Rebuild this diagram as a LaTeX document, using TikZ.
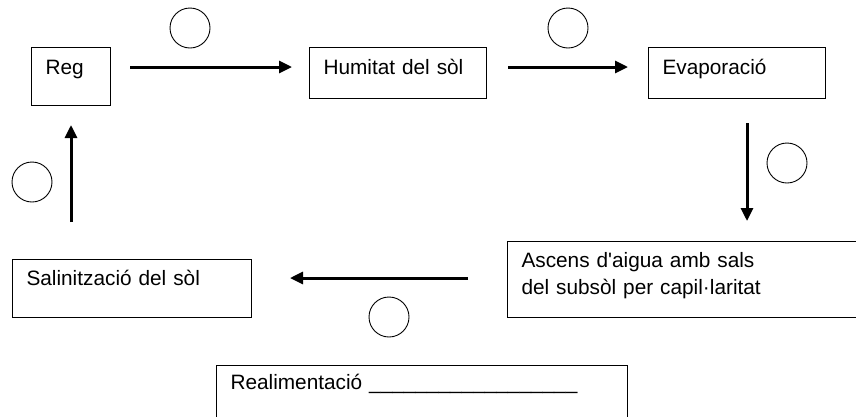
\documentclass[tikz,border=0pt]{standalone}
\usepackage{fontspec}
\setmainfont{Liberation Sans}
\usetikzlibrary{arrows.meta}

\begin{document}
\begin{tikzpicture}[x=1pt, y=-1pt,
  caixa/.style={draw, line width=1pt, anchor=north west, align=left,
    inner xsep=14pt, inner ysep=0pt, font=\fontsize{20.8}{27}\selectfont},
  fletxa/.style={line width=3pt, -{Triangle[length=13pt,width=12pt]}},
  rodona/.style={draw, circle, line width=0.9pt, minimum size=40pt, inner sep=0pt}]
\useasboundingbox (0,0) rectangle (856,416);

% caixes
\draw (31,47) node[caixa, text width=51pt, text height=27pt, text depth=31pt] (reg) {Reg};
\draw (309,47) node[caixa, text width=149pt, text height=27pt, text depth=24pt] (humitat) {Humitat del sòl};
\draw (648,47) node[caixa, text width=149pt, text height=27pt, text depth=24pt] (evap) {Evaporació};
\draw (507,241) node[caixa, text width=324pt, text height=26pt, text depth=50pt] (ascens) {Ascens d\textquotesingle aigua amb sals\\del subsòl per capil·laritat};
\draw (12,259) node[caixa, text width=211pt, text height=26pt, text depth=32pt] (salin) {Salinització del sòl};
\draw (216,365) node[caixa, text width=383pt, text height=24pt, text depth=31pt] (realim) {Realimentació \_\_\_\_\_\_\_\_\_\_\_\_\_\_\_\_\_\_};

% cercles
\draw (190,28) node[rodona] (c1) {};
\draw (568,28) node[rodona] (c2) {};
\draw (787,163) node[rodona] (c3) {};
\draw (389,317) node[rodona] (c4) {};
\draw (32,182) node[rodona] (c5) {};

% fletxes
\coordinate (a1) at (130,67);
\coordinate (b1) at (292,67);
\coordinate (a2) at (508,67);
\coordinate (b2) at (628,67);
\coordinate (a3) at (747,123);
\coordinate (b3) at (747,221);
\coordinate (a4) at (468,278);
\coordinate (b4) at (290,278);
\coordinate (a5) at (71,222);
\coordinate (b5) at (71,125);
\draw[fletxa] (a1) -- (b1);
\draw[fletxa] (a2) -- (b2);
\draw[fletxa] (a3) -- (b3);
\draw[fletxa] (a4) -- (b4);
\draw[fletxa] (a5) -- (b5);

\end{tikzpicture}
\end{document}
